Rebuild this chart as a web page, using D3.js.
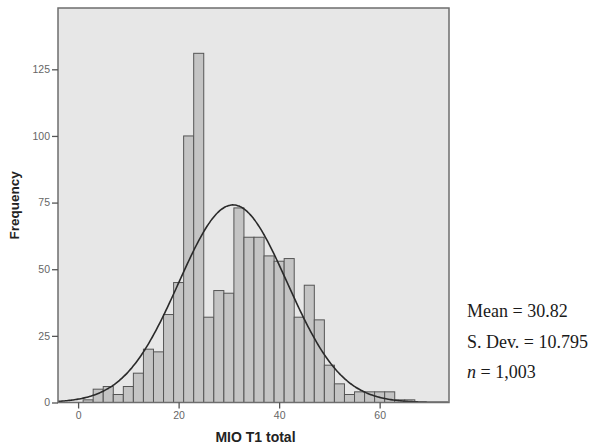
<!DOCTYPE html>
<html>
<head>
<meta charset="utf-8">
<script src="https://cdn.jsdelivr.net/npm/d3@7"></script>
<style>
  body { margin: 0; background: #fff; }
  svg { display: block; }
</style>
</head>
<body>
<div id="chart"></div>
<script>
// Histogram bins (lower edge, width 2) and counts
const binStarts = [1, 3, 5, 7, 9, 11, 13, 15, 17, 19, 21, 23, 25, 27, 29, 31, 33, 35, 37,
                   39, 41, 43, 45, 47, 49, 51, 53, 55, 57, 59, 61, 63, 65];
const counts = [1, 5, 6, 3, 6, 11, 20, 19, 33, 45, 100, 131, 32, 42, 41, 73, 62, 62, 55,
                53, 54, 32, 44, 31, 14, 7, 3, 4, 4, 4, 4, 1, 1];
const binWidth = 2;

const xTicks = [0, 20, 40, 60];
const yTicks = [0, 25, 50, 75, 100, 125];

const statLines = [
  { label: "Mean = ", value: "30.82" },
  { label: "S. Dev. = ", value: "10.795" },
  { label: "n", value: " = 1,003", italic: true }
];
const mean = 30.82, sd = 10.795, n = 1003;

const width = 596, height = 446;
const plotLeft = 58, plotRight = 449, plotTop = 8, plotBottom = 402.5;

const svg = d3.select("#chart").append("svg")
  .attr("width", width)
  .attr("height", height);

const x = d3.scaleLinear().domain([-4, 73.8]).range([plotLeft, plotRight]);
const y = d3.scaleLinear().domain([0, 148]).range([plotBottom, plotTop]);

// plot background
svg.append("rect")
  .attr("x", plotLeft).attr("y", plotTop)
  .attr("width", plotRight - plotLeft).attr("height", plotBottom - plotTop)
  .attr("fill", "#e7e7e7");

svg.append("defs").append("clipPath").attr("id", "plotclip")
  .append("rect")
  .attr("x", plotLeft).attr("y", plotTop)
  .attr("width", plotRight - plotLeft).attr("height", plotBottom - plotTop);

// bars
svg.append("g").selectAll("rect")
  .data(binStarts.map((b, i) => ({ x0: b, count: counts[i] })))
  .enter().append("rect")
  .attr("x", d => x(d.x0))
  .attr("y", d => y(d.count))
  .attr("width", d => x(d.x0 + binWidth) - x(d.x0))
  .attr("height", d => y(0) - y(d.count))
  .attr("fill", "#c4c4c4")
  .attr("stroke", "#555")
  .attr("stroke-width", 1);

// fitted normal curve
const pdf = v => n * binWidth / (sd * Math.sqrt(2 * Math.PI)) * Math.exp(-((v - mean) ** 2) / (2 * sd * sd));
const curvePts = d3.range(-4, 74, 0.25).map(v => [v, pdf(v)]);
svg.append("path")
  .datum(curvePts)
  .attr("clip-path", "url(#plotclip)")
  .attr("fill", "none")
  .attr("stroke", "#2a2a2a")
  .attr("stroke-width", 1.6)
  .attr("d", d3.line().x(d => x(d[0])).y(d => y(d[1])).curve(d3.curveBasis));

// frame
svg.append("rect")
  .attr("x", plotLeft).attr("y", plotTop)
  .attr("width", plotRight - plotLeft).attr("height", plotBottom - plotTop)
  .attr("fill", "none")
  .attr("stroke", "#6e6e6e")
  .attr("stroke-width", 1.5);

// axes
const yAxis = svg.append("g")
  .attr("transform", `translate(${plotLeft},0)`)
  .call(d3.axisLeft(y).tickValues(yTicks).tickSize(6).tickPadding(2));
const xAxis = svg.append("g")
  .attr("transform", `translate(0,${plotBottom})`)
  .call(d3.axisBottom(x).tickValues(xTicks).tickSize(6).tickPadding(3));

[yAxis, xAxis].forEach(g => {
  g.select(".domain").remove();
  g.selectAll(".tick line").attr("stroke", "#555").attr("stroke-width", 1.3);
  g.selectAll(".tick text")
    .attr("fill", "#666")
    .style("font-family", "'Liberation Sans', Arial, sans-serif")
    .style("font-size", "10.5px");
});

// axis titles
svg.append("text")
  .attr("transform", `translate(19,${(plotTop + plotBottom) / 2}) rotate(-90)`)
  .attr("text-anchor", "middle")
  .style("font-family", "'Liberation Sans', Arial, sans-serif")
  .style("font-weight", "bold")
  .style("font-size", "13.5px")
  .attr("fill", "#222")
  .text("Frequency");

svg.append("text")
  .attr("x", (plotLeft + plotRight) / 2 + 2)
  .attr("y", 442)
  .attr("text-anchor", "middle")
  .style("font-family", "'Liberation Sans', Arial, sans-serif")
  .style("font-weight", "bold")
  .style("font-size", "14px")
  .attr("fill", "#222")
  .text("MIO T1 total");

// stats block
const stats = svg.append("g")
  .style("font-family", "'Liberation Serif', 'Times New Roman', serif")
  .style("font-size", "18px")
  .attr("fill", "#1a1a1a");
statLines.forEach((s, i) => {
  const t = stats.append("text").attr("x", 467).attr("y", 317 + i * 30.5);
  t.append("tspan").style("font-style", s.italic ? "italic" : "normal").text(s.label);
  t.append("tspan").text(s.value);
});
</script>
</body>
</html>
